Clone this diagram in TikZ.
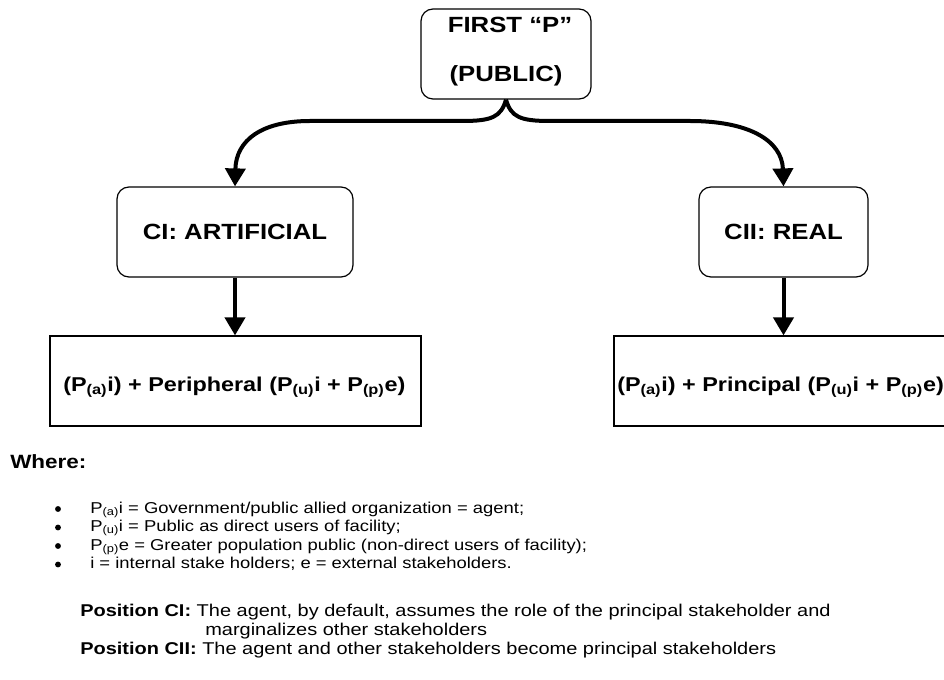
\documentclass[tikz,border=0pt]{standalone}
\usepackage{fontspec}
\setmainfont{Liberation Sans}[FakeStretch=1.17]
\usetikzlibrary{arrows.meta}
\newcommand{\sbs}[1]{\textsubscript{(#1)}}
\begin{document}
\begin{tikzpicture}[x=0.75pt,y=-0.75pt,
  rbox/.style={draw, line width=0.9pt, rounded corners=9pt, inner sep=0pt},
  sbox/.style={draw, line width=0.9pt, inner sep=0pt},
  flow/.style={line width=3pt, -{Triangle[width=15pt,length=13.5pt]}},
  head/.style={font=\bfseries\fontsize{16.5}{19}\selectfont, inner sep=0pt},
  formula/.style={font=\bfseries\fontsize{15}{18}\selectfont, inner sep=0pt, anchor=base west},
  body/.style={font=\fontsize{11.8}{14}\selectfont, inner sep=0pt, anchor=base west},
  dot/.style={circle, fill, inner sep=0pt, minimum size=4.4pt},
  note/.style={font=\fontsize{12.8}{15}\selectfont, inner sep=0pt, anchor=base west},
  where/.style={font=\bfseries\fontsize{14.4}{17}\selectfont, inner sep=0pt, anchor=base west}
]
\useasboundingbox (0,0) rectangle (944,680);

% tree of boxes
\node[rbox, minimum width=127.5pt, minimum height=67.5pt] (top) at (506,54) {};
\node[head] (topa) at (510,25) {FIRST “P”};
\node[head] (topb) at (506,76) {(PUBLIC)};

\node[rbox, minimum width=177pt, minimum height=67.5pt] (ci) at (235,232) {};
\node[head] (cit) at (235,232) {CI: ARTIFICIAL};

\node[rbox, minimum width=126.75pt, minimum height=67.5pt] (cii) at (783.5,232) {};
\node[head] (ciit) at (783.5,232) {CII: REAL};

\node[sbox, minimum width=278.25pt, minimum height=67.5pt] (fa) at (235.5,381) {};
\node[formula] (fat) at (63,391) {(P\sbs{a}i) + Peripheral (P\sbs{u}i + P\sbs{p}e)};

\node[sbox, minimum width=278.25pt, minimum height=67.5pt] (fb) at (799.5,381) {};
\node[formula] (fbt) at (617,391) {(P\sbs{a}i) + Principal (P\sbs{u}i + P\sbs{p}e)};

% connectors
\draw[flow] (top.south) .. controls (501,117) and (492,121) .. (462,121)
  -- (310,121) .. controls (262,121) and (236,140) .. (ci.north);
\draw[flow] (top.south) .. controls (511,117) and (520,121) .. (550,121)
  -- (690,121) .. controls (748,121) and (782,140) .. (cii.north);
\draw[flow] (ci.south) -- (fa.north -| ci.south);
\draw[flow] (cii.south) -- (fb.north -| cii.south);

% legend
\node[where] (wh) at (10,468) {Where:};
\node[dot] (b1) at (58,509) {};
\node[body] (l1) at (90,513) {P\sbs{a}i = Government/public allied organization = agent;};
\node[dot] (b2) at (58,527.5) {};
\node[body] (l2) at (90,531.5) {P\sbs{u}i = Public as direct users of facility;};
\node[dot] (b3) at (58,546) {};
\node[body] (l3) at (90,550) {P\sbs{p}e = Greater population public (non-direct users of facility);};
\node[dot] (b4) at (58,564.5) {};
\node[body] (l4) at (90,568.5) {i = internal stake holders; e = external stakeholders.};

\node[note] (p1) at (80,616) {\textbf{Position CI:} The agent, by default, assumes the role of the principal stakeholder and};
\node[note] (p1b) at (205,635) {marginalizes other stakeholders};
\node[note] (p2) at (80,654) {\textbf{Position CII:} The agent and other stakeholders become principal stakeholders};
\end{tikzpicture}
\end{document}
